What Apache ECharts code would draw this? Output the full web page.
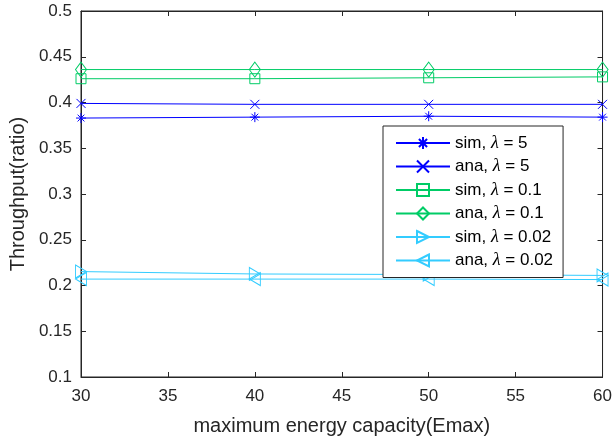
<!DOCTYPE html>
<html>
<head>
<meta charset="utf-8">
<script src="https://cdn.jsdelivr.net/npm/echarts@6/dist/echarts.min.js"></script>
<style>html,body{margin:0;padding:0;background:#fff}#c{width:615px;height:441px}</style>
</head>
<body>
<div id="c"></div>
<script>
const xs = [30, 40, 50, 60];
const simL5 = [0.383, 0.384, 0.385, 0.384];
const anaL5 = [0.399, 0.398, 0.398, 0.398];
const simL01 = [0.426, 0.426, 0.427, 0.428];
const anaL01 = [0.436, 0.436, 0.436, 0.436];
const simL002 = [0.2152, 0.2126, 0.212, 0.211];
const anaL002 = [0.207, 0.207, 0.207, 0.2065];
const names = ['sim, λ = 5', 'ana, λ = 5', 'sim, λ = 0.1', 'ana, λ = 0.1', 'sim, λ = 0.02', 'ana, λ = 0.02'];
const xTicks = [30, 35, 40, 45, 50, 55, 60];
const yTicks = [0.1, 0.15, 0.2, 0.25, 0.3, 0.35, 0.4, 0.45, 0.5];

const BLUE = '#0000ff', GREEN = '#00cc66', CYAN = '#33ccff';
const SYM = {
  ast: 'path://M5,0L5,10M0,5L10,5M1.6,1.6L8.4,8.4M8.4,1.6L1.6,8.4',
  cross: 'path://M0,0L10,10M10,0L0,10',
  sq: 'path://M0,0L10,0L10,10L0,10Z',
  dia: 'path://M5,0L10,7L5,14L0,7Z',
  tr: 'path://M0,0L10,6L0,12Z',
  tl: 'path://M10,0L0,6L10,12Z'
};
function mk(name, vals, color, sym, size) {
  return {
    name: name, type: 'line',
    data: xs.map((x, i) => [x, vals[i]]),
    symbol: sym, symbolSize: size, showSymbol: true,
    lineStyle: { color: color, width: 1 },
    itemStyle: { color: 'rgba(0,0,0,0)', borderColor: color, borderWidth: 1 },
    emphasis: { disabled: true },
    animation: false
  };
}
const series = [
  mk(names[0], simL5, BLUE, SYM.ast, [10, 10]),
  mk(names[1], anaL5, BLUE, SYM.cross, [9, 9]),
  mk(names[2], simL01, GREEN, SYM.sq, [10, 10]),
  mk(names[3], anaL01, GREEN, SYM.dia, [11, 15]),
  mk(names[4], simL002, CYAN, SYM.tr, [11, 13]),
  mk(names[5], anaL002, CYAN, SYM.tl, [11, 13])
];
const font = 'Liberation Sans, Arial, sans-serif';
const TXT = '#262626';
const chart = echarts.init(document.getElementById('c'), null, { renderer: 'canvas' });
chart.setOption({
  animation: false,
  backgroundColor: '#fff',
  grid: { left: 81, right: 4, top: 11, bottom: 63, show: true, borderColor: TXT, borderWidth: 1, backgroundColor: '#fff' },
  legend: {
    orient: 'vertical', left: 383, top: 126,
    padding: [8, 10, 8, 12],
    itemWidth: 54, itemHeight: 15, itemGap: 5.5,
    borderColor: TXT, borderWidth: 1, backgroundColor: '#fff',
    data: names,
    textStyle: {
      fontFamily: font, fontSize: 17, color: '#000',
      rich: { l: { fontFamily: 'Liberation Serif, serif', fontStyle: 'italic', fontSize: 18, color: '#000' } }
    },
    formatter: n => n.replace('λ', '{l|λ}')
  },
  xAxis: [{
    type: 'value', min: 30, max: 60, interval: 5,
    name: 'maximum energy capacity(Emax)', nameLocation: 'middle', nameGap: 39,
    nameTextStyle: { fontFamily: font, fontSize: 20, color: TXT },
    axisLine: { lineStyle: { color: TXT } },
    axisTick: { inside: true, length: 5, lineStyle: { color: TXT } },
    axisLabel: { fontFamily: font, fontSize: 17, color: TXT, margin: 11, formatter: v => xTicks.includes(v) ? String(v) : '' },
    splitLine: { show: false }
  }, {
    type: 'value', min: 30, max: 60, interval: 5, position: 'top',
    axisLine: { lineStyle: { color: TXT } },
    axisTick: { inside: true, length: 5, lineStyle: { color: TXT } },
    axisLabel: { show: false }, splitLine: { show: false }
  }],
  yAxis: [{
    type: 'value', min: 0.1, max: 0.5, interval: 0.05,
    name: 'Throughput(ratio)', nameLocation: 'middle', nameGap: 49,
    nameTextStyle: { fontFamily: font, fontSize: 20, color: TXT },
    axisLine: { lineStyle: { color: TXT } },
    axisTick: { inside: true, length: 5, lineStyle: { color: TXT } },
    axisLabel: { fontFamily: font, fontSize: 17, color: TXT, margin: 9,
      formatter: v => { const r = Math.round(v * 100) / 100; const t = yTicks.find(y => Math.abs(y - r) < 1e-9); return t !== undefined ? String(t) : ''; } },
    splitLine: { show: false }
  }, {
    type: 'value', min: 0.1, max: 0.5, interval: 0.05, position: 'right',
    axisLine: { lineStyle: { color: TXT } },
    axisTick: { inside: true, length: 5, lineStyle: { color: TXT } },
    axisLabel: { show: false }, splitLine: { show: false }
  }],
  series: series
});
</script>
</body>
</html>
